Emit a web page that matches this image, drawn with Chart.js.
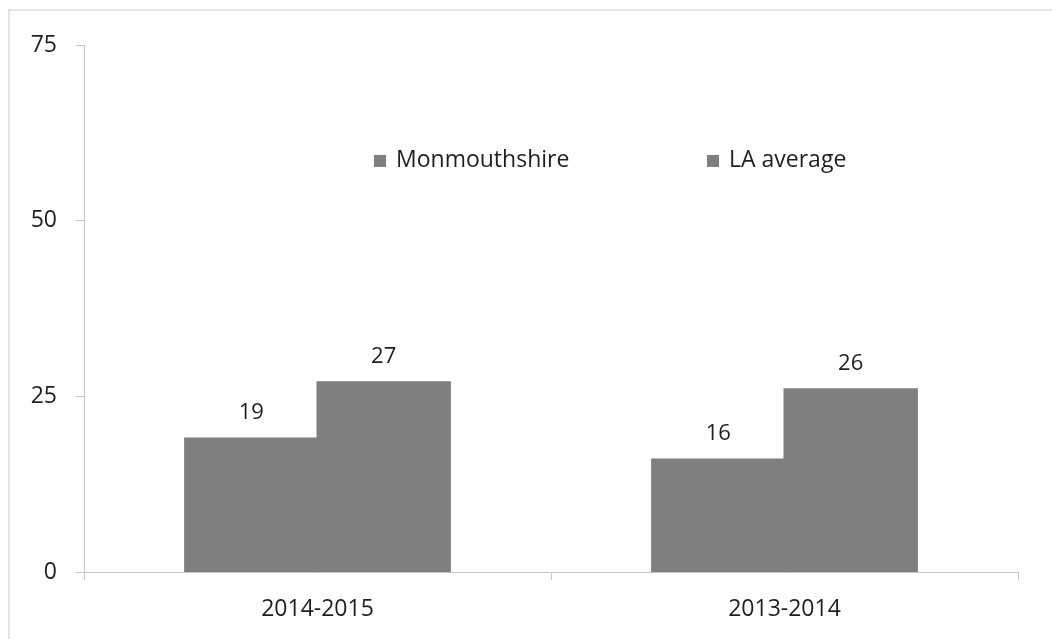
<!DOCTYPE html>
<html>
<head>
<meta charset="utf-8">
<script src="https://cdn.jsdelivr.net/npm/chart.js@4.4.1/dist/chart.umd.min.js"></script>
<style>
  html, body { margin: 0; padding: 0; background: #fff; }
  #wrap { position: relative; width: 1052px; height: 639px; }
  #frame { position: absolute; left: 8px; top: 9px; right: 0; bottom: 0;
           border-top: 2px solid #e4e4e4; border-left: 2px solid #e4e4e4; }
  #barChart { position: absolute; left: 0; top: 0; }
</style>
</head>
<body>
<div id="wrap">
  <div id="frame"></div>
  <canvas id="barChart" width="1052" height="639"></canvas>
</div>
<script>
var periods = ["2014-2015", "2013-2014"];
var monmouthshire = [19, 16];
var laAverage = [27, 26];
var yTicks = [0, 25, 50, 75];

var barGrey = '#7f7f7f';
var textColour = '#1f1f1f';
var axisColour = '#c6c6c6';
var fontFamily = "'Open Sans', sans-serif";

// values written above each bar
var valueLabels = {
    id: 'valueLabels',
    afterDatasetsDraw: function (chart) {
        var ctx = chart.ctx;
        ctx.save();
        ctx.fillStyle = textColour;
        ctx.font = '22px ' + fontFamily;
        ctx.textAlign = 'center';
        ctx.textBaseline = 'middle';
        chart.data.datasets.forEach(function (ds, i) {
            chart.getDatasetMeta(i).data.forEach(function (bar, j) {
                ctx.fillText(ds.data[j], bar.x, bar.y - 26);
            });
        });
        ctx.restore();
    }
};

// legend sitting inside the plot area
var innerLegend = {
    id: 'innerLegend',
    afterDraw: function (chart) {
        var ctx = chart.ctx;
        var y = chart.scales.y.getPixelForValue(58.5);
        var xs = [374, 707];
        ctx.save();
        ctx.font = '23px ' + fontFamily;
        ctx.textBaseline = 'middle';
        ctx.textAlign = 'left';
        chart.data.datasets.forEach(function (ds, i) {
            ctx.fillStyle = ds.backgroundColor;
            ctx.fillRect(xs[i], y - 6, 12, 12);
            ctx.fillStyle = textColour;
            ctx.fillText(ds.label, xs[i] + 22, y);
        });
        ctx.restore();
    }
};

var barChart = document.getElementById("barChart");
var barChartConfig = {
    type: 'bar',
    data: {
        labels: periods,
        datasets: [{
            label: 'Monmouthshire',
            data: monmouthshire,
            backgroundColor: barGrey
        }, {
            label: 'LA average',
            data: laAverage,
            backgroundColor: barGrey
        }]
    },
    options: {
        responsive: false,
        animation: false,
        layout: {
            padding: { left: 10, right: 34, top: 45, bottom: 0 }
        },
        categoryPercentage: 0.567,
        barPercentage: 1,
        inflateAmount: 1,
        plugins: {
            legend: { display: false },
            tooltip: { enabled: false }
        },
        scales: {
            x: {
                grid: {
                    display: true,
                    drawOnChartArea: false,
                    drawTicks: true,
                    tickLength: 8,
                    color: axisColour,
                    offset: true
                },
                border: { display: true, color: axisColour, width: 1 },
                ticks: {
                    color: textColour,
                    padding: 16,
                    font: { family: fontFamily, size: 23 }
                },
                afterFit: function (scale) { scale.height = 67; }
            },
            y: {
                min: 0,
                max: 75,
                afterBuildTicks: function (scale) {
                    scale.ticks = yTicks.map(function (v) { return { value: v }; });
                },
                grid: {
                    display: true,
                    drawOnChartArea: false,
                    drawTicks: true,
                    tickLength: 8,
                    color: axisColour
                },
                border: { display: true, color: axisColour, width: 1 },
                ticks: {
                    color: textColour,
                    padding: 19,
                    font: { family: fontFamily, size: 23 }
                },
                afterFit: function (scale) { scale.width = 74; }
            }
        }
    },
    plugins: [valueLabels, innerLegend]
};
var barChartObj = new Chart(barChart, barChartConfig);
</script>
</body>
</html>
